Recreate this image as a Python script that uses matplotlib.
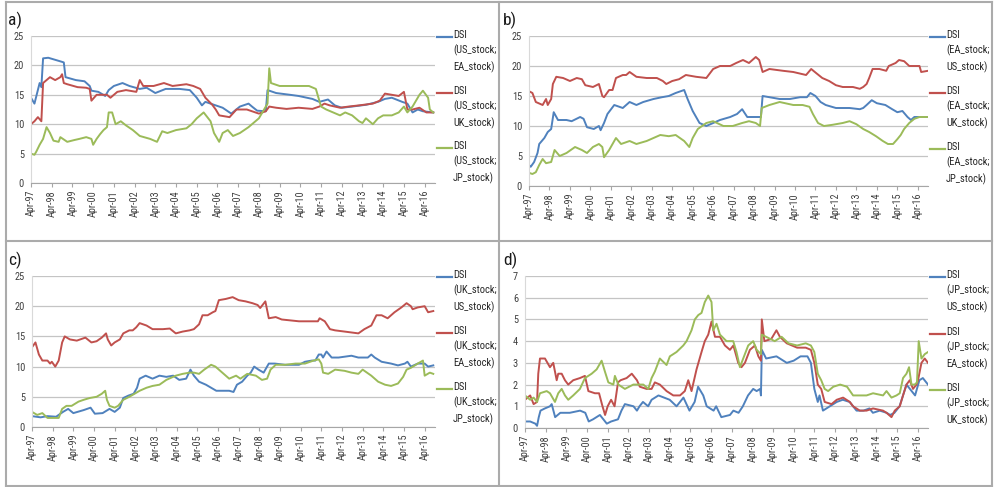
import matplotlib
matplotlib.use('Agg')
import matplotlib.pyplot as plt
from matplotlib import font_manager as fm
from matplotlib.lines import Line2D

# ---------------- data (months since Apr-97) ----------------
tick_labels = ["Apr-97", "Apr-98", "Apr-99", "Apr-00", "Apr-01", "Apr-02", "Apr-03",
               "Apr-04", "Apr-05", "Apr-06", "Apr-07", "Apr-08", "Apr-09", "Apr-10",
               "Apr-11", "Apr-12", "Apr-13", "Apr-14", "Apr-15", "Apr-16"]

# panel a
a_blue_t = [0,2,5,6,7,10,18,19,20,26,31,34,35,39,43,45,48,53,57,63,67,72,78,86,92,96,99,101,107,111,116,121,126,128,131,136,137,142,150,155,163,167,172,176,180,186,194,201,205,209,215,218,221,224,227,233]
a_blue_v = [14.5,13.5,17,16.3,21.2,21.3,20.6,20.5,18,17.5,17.3,16.5,15.7,15.5,14.8,15.8,16.5,17,16.5,16,16.2,15.3,16,16,15.8,14.5,13.2,13.8,13.2,12.8,11.8,13,13.5,13,12.3,12.2,15.8,15.3,15,14.8,14.3,13.8,14.2,13.2,12.8,13,13.3,13.8,14.3,14.5,13.8,13.5,12,12.5,12.2,12]
a_red_t = [0,2,4,6,7,9,11,14,17,18,19,21,27,32,34,35,38,44,46,50,55,61,63,65,71,77,82,90,94,98,101,105,107,109,115,119,125,128,132,136,138,142,148,155,163,167,170,173,179,184,190,198,202,205,209,213,216,218,221,225,229,233]
a_red_v = [10,10.5,11.2,10.5,17,17.5,18,17.5,18,18.5,17,16.8,16.3,16.2,16,14,15,15,14.5,15.5,15.8,15.5,17.5,16.5,16.5,17,16.5,16.8,16.5,16,14.5,13.3,12.5,11.5,11.2,12.5,12.5,12.2,11.8,12.2,13,12.8,12.6,12.8,12.6,13,13.5,13.2,12.8,13,13.2,13.5,14,15.2,15,14.8,15.5,12.5,12.5,12.8,12,12]
a_green_t = [0,2,3,5,7,9,11,13,16,17,21,25,28,32,35,36,38,40,42,44,45,47,49,52,55,59,63,69,73,76,79,84,90,93,96,100,104,106,109,111,114,117,121,126,130,132,135,137,138,139,144,152,157,161,165,168,171,175,179,182,186,190,192,194,198,201,204,209,213,216,218,221,225,227,230,231,233]
a_green_v = [5,4.8,5.3,6.5,7.5,9.5,8.5,7.2,7,7.8,7,7.3,7.5,7.8,7.5,6.5,7.5,8.3,9,9.5,12,12,10,10.5,9.8,9,8,7.5,7,8.8,8.5,9,9.3,10,11,12,10.5,8.5,7,8.5,9,8,8.5,9.5,10.5,11,12.5,13.5,19.5,17,16.5,16.5,16.5,16.5,16,13,12.5,12,11.5,12,11.5,10.5,10.2,11,10,11,11.5,11.5,12,13,12,13,15,15.7,14.5,12.5,12]

# panel b
b_blue_t = [0,1,3,5,6,9,11,13,14.5,17,22,25,30,32,34,38,41,42,44,46,50,55,59,63,67,73,78,82,86,91,93,96,100,104,108,112,118,122,125,128,133,136,137,141,147,153,159,163,165,168,171,174,180,188,194,196,198,201,204,209,213,216,219,222,224,226,234]
b_blue_v = [3.5,3.2,4,5.5,7,8,9,9.5,12.3,11,11,10.8,11.5,11.2,9.8,9.5,10,9.3,10.5,12,13.5,13,14,13.5,14,14.5,14.8,15,15.5,16,14.5,12.5,10.5,10,10.5,11,11.5,12,12.8,11.5,11.5,11.5,15,14.8,14.5,14.5,14.8,14.8,15.5,15,14,13.5,13,13,12.8,13,13.5,14.3,13.8,13.5,12.8,12.3,12.5,11.5,11,11.5,11.5]
b_red_t = [0,2,4,8,10,11,13,14,16,20,24,28,31,33,37.5,41,43,44,47,49,51,55,57,59,63,69,75,78.5,80.5,84,88,92,98,104,108,112,118,121.5,125.5,129,133,135,137,141,149,155,162.5,165.5,168.5,172,176,180,184,190,194,196,198,199.5,201.5,205.5,209.5,211,215,217,220,223,229,230,234]
b_red_v = [15.8,15.5,14,13.5,14.5,13.5,14.5,17,18.2,18,17.5,18,17.8,16.8,16.5,17,15,14.8,16,16,18,18.5,18.5,19,18.2,18,18,17.5,17,17.5,17.8,18.5,18.2,18,19.5,20,20,20.5,21,20.5,21.5,21,19,19.5,19.2,19,18.5,19.5,18.8,18,17.5,16.8,16.5,16.5,16.2,16.5,17,18,19.5,19.5,19.2,20,20.5,21,20.8,20,20,19,19.2]
b_green_t = [0,2,4,6,8,10,13,14,15,18,22,27,31,34,37.5,41,43,44,47,50,51,54,59,63,69,73,77,82,86,91,94,96,99,104,108,114,119.5,125,129,133,135.5,136.5,141,147,155,160.5,164.5,166.5,169.5,173,178,184,188,192,196,199.5,203.5,207.5,210.5,213.5,216,218,220,223,226,229,234]
b_green_v = [2.2,2,2.3,3.5,4.5,3.8,4,5,6,5,5.5,6.5,6,5.5,6.5,7,6.5,4.8,6,7.5,8,7,7.5,7,7.5,8,8.5,8.3,8.5,7.5,6.5,8,9.5,10.5,10.8,10,10,10.5,10.8,10.5,10,13,13.5,14,13.5,13.5,13.2,12,10.5,10,10.2,10.5,10.8,10.3,9.5,9,8.3,7.5,7,7,7.8,8.5,9.5,10.5,11.2,11.5,11.5]

# panel c
c_blue_t = [0,5,9,14,18,21,24,30,34,36.5,41,45,48,51,53,56,59,61,62.5,66,70,74,78,82,85.5,89.5,92,94,97,101,104,107,110.5,114.5,117,119,122,125,127,129,131.5,134.5,137.5,141,147,155,158.5,162.5,164.5,166.5,168,169,171,174,178,185.5,189.5,195,197,199,203,208.5,212.5,216.5,218,220,224,228,230,233]
c_blue_v = [1.8,1.6,1.8,1.7,2.5,3,2.3,2.8,3.2,2.2,2.3,3,2.5,3.2,4.8,5.2,5.5,6.5,8,8.5,8,8.5,8.3,8.5,7.8,8,9.5,8.5,7.5,7,6.5,6,6,6,5.8,7,7.5,8.5,9,10,9.5,9,10.5,10.5,10.3,10.3,10.8,11,11,12,12,11.5,12.5,11.5,11.5,11.8,11.5,11.5,12,11.5,10.8,10.5,10.2,10.5,10.8,10,10.5,10.5,10,10.2]
c_red_t = [0,2,4,6,9,10.5,11.5,13.5,15.5,17.5,19,22,26,31,34.5,37.5,40.5,43,44,46,48,51,53,56.5,58.5,60.5,62.5,66.5,70,76,80,83.5,87.5,91.5,94,97,99,102,105,106.5,108.5,112.5,116.5,120,124,128,131,132.5,135.5,137.5,141.5,145,155,162.5,166,167,170,173,176,181.5,189.5,193,197,200,203,206.5,210.5,214.5,217.5,220,221,224,228,230,233]
c_red_v = [13.2,14,12,11,11,10.5,10.8,10,11,14,15,14.5,14.3,14.8,14,14.2,14.8,15.5,14.5,13.5,14,14.5,15.5,16,16,16.5,17.2,16.8,16.2,16.2,16.3,15.5,15.8,16,16.2,17,18.5,18.5,19,19.2,21,21.2,21.5,21,20.8,20.5,20.2,19.7,20.8,18,18.2,17.8,17.5,17.5,17.5,18,17.5,16.2,16,15.8,15.5,16.2,16.8,18.5,18.5,18,19,19.8,20.5,20,19.5,19.8,20,19,19.2]
c_green_t = [0,3,6,9,15.5,17.5,20,23,27,30,33.5,37.5,40.5,42.5,43.5,45,48,50,53,56.5,59.5,62.5,66.5,70,74,78,83.5,87.5,91.5,94,97,100,104,106.5,110.5,114.5,118.5,121,125,130,133.5,136.5,138.5,141.5,147,153,158.5,163.5,166.5,168,169,172,176,181.5,185.5,189.5,192,197,201,205,208.5,212.5,215.5,217.5,220,224,227,228,231,233]
c_green_v = [2.5,2,2.3,1.5,1.5,3,3.5,3.5,4.2,4.5,4.8,5,5.5,6,4.5,3.5,3.2,3.5,4.5,5,5.5,6,6.5,6.8,7,7.8,8.5,8.8,9,9,8.8,9.5,10.3,10,9,8,8.5,8,8.8,8.5,7.8,8,9.5,10.3,10.3,10.5,10.5,11,11.2,10.5,9,8.8,9.5,9.3,9,8.8,9.5,8.5,7.5,7,6.8,7.2,8.3,9.5,9.8,10.5,11,8.5,9,8.8]

# panel d
d_blue_t = [0,3,6,7,8,9,11.5,14.5,15.5,17.5,20.5,26,32,35,37,39.5,43.5,45.5,47.5,50,54,56,58,63,65,66.5,68.5,71.5,73.5,77.5,84,88,92,95.5,98.5,100.5,103.5,105.5,109.5,111,114,119,121,124,126.5,129.5,132.5,134.5,136.5,137,137.5,140,146,152,156,160,164,166,168,170,171,173,177,181,184.5,188.5,192.5,196.5,200,202,206,210,212,214.5,217.5,219.5,221.5,223.5,226.5,229,231,234]
d_blue_v = [0.3,0.3,0.2,0.1,0.5,0.8,0.9,1,1.1,0.5,0.7,0.7,0.8,0.7,0.3,0.4,0.6,0.4,0.2,0.3,0.4,0.8,1.1,1,0.8,1,1.2,1,1.3,1.5,1.3,1,1.4,0.8,1.2,1.9,1.5,1,0.8,1,0.5,0.6,0.8,0.7,1,1.5,1.8,1.7,1.8,1.5,3.6,3.2,3.3,3,3.1,3.3,3.3,3,1.8,1.2,1.5,0.8,1,1.2,1.3,1.2,0.8,0.8,0.9,0.7,0.8,0.7,0.6,0.7,1,1.5,2,1.8,1.5,2.2,2.3,2]
d_red_t = [0,3,5,7,7.7,8.7,11.6,14.5,16.4,18.4,19.3,21.3,23.2,25.1,28,31.9,34.8,36.8,40.6,43,45,46.5,48,50,52,54,55.5,59,62,65,66.7,70.6,73.5,75.4,78.3,82.2,86.1,90,92.8,94.8,96.7,99.6,102.5,104.4,106.4,108.3,110.3,113.2,116.1,119,121,123.8,125.7,127.7,130.6,133.5,135.5,137,137.5,139,143,146,148,152,158,163,166,168,170,172,174,178,181,184.7,188.6,190.5,194.4,198.3,202.1,207.9,209.9,212.8,214.7,217.6,219.5,221.5,223.4,225.3,227.3,228.2,230.2,232.1,234]
d_red_v = [1.3,1.5,1.1,1.2,2.5,3.2,3.2,2.8,3,2.2,2.5,2.5,2.2,2,2.2,2.3,2.4,1.7,1.6,1.6,1,0.6,1,1.3,1,2.1,2.2,2.3,2.5,2.2,1.9,1.8,1.8,2.1,2,1.7,1.5,1.5,1.7,2.2,1.7,2.7,3.5,4,4.3,4.9,4.2,4.2,3.8,3.6,3.8,3,2.8,3,3.6,3.8,3.3,3.1,5,4,4.1,4.5,4.2,3.9,3.7,3.7,3.6,3,2,1.8,1.2,1.1,1.3,1.4,1.2,1,0.8,0.8,0.9,0.8,0.7,0.5,0.8,1,1.5,2,2.2,1.8,2,2.2,3,3.2,3]
d_green_t = [0,3,5,7,8.7,12.6,14.5,17.4,19.3,21.3,23.2,25.1,28,31.9,34.8,38.7,41.6,44.5,46.4,48.4,51.3,52.2,54.2,58,62.9,68.7,71.6,73.5,75.4,78.3,82.2,84.1,88,91.9,93.8,96.7,98.6,100.6,102.5,104.4,106.4,108.3,109.3,111.2,113.2,117,120.9,122.8,124.8,126.7,129.6,132.5,134.5,137,137.5,140,145,149,153,158,163,166,168,170,172,174,176,179,183,187,190.5,194.4,198.3,202.1,207.9,209.9,212.8,215.7,217.6,219.5,221.5,223,224.4,226.3,227.6,228.6,230.2,232.1,234]
d_green_v = [1.5,1.3,1.4,1.2,1.6,1.7,1.6,1.2,1.6,1.8,1.5,1.3,1.5,1.8,2.3,2.5,2.7,3.1,2.6,2.1,2,2.4,2,1.8,2,2,1.8,2.3,2.6,3.2,2.9,3.3,3.5,3.8,4,4.5,5,5.2,5.3,5.8,6.1,5.8,4.5,4.8,4.3,4,4,3.5,2.8,3.2,3.8,4,3.6,3.4,4.3,4.2,4,4.2,3.9,3.8,3.9,3.8,3.5,2.5,2.2,1.8,1.7,1.9,2,1.9,1.5,1.5,1.5,1.6,1.5,1.7,1.4,1.5,1.6,2.3,2.5,2.8,2,2,2.1,4,3.2,3.4,3.5]

legend_a = ["DSI\n(US_stock;\nEA_stock)", "DSI\n(US_stock;\nUK_stock)", "DSI\n(US_stock;\nJP_stock)"]
legend_b = ["DSI\n(EA_stock;\nUS_stock)", "DSI\n(EA_stock;\nUK_stock)", "DSI\n(EA_stock;\nJP_stock)"]
legend_c = ["DSI\n(UK_stock;\nUS_stock)", "DSI\n(UK_stock;\nEA_stock)", "DSI\n(UK_stock;\nJP_stock)"]
legend_d = ["DSI\n(JP_stock;\nUS_stock)", "DSI\n(JP_stock;\nEA_stock)", "DSI\n(JP_stock;\nUK_stock)"]

# ---------------- styling ----------------
names = {f.name for f in fm.fontManager.ttflist}
FONT = 'DejaVu Sans'
for cand in ['Liberation Sans Narrow', 'Roboto Condensed', 'Open Sans Condensed', 'Lato']:
    if cand in names:
        FONT = cand
        break
plt.rcParams['font.family'] = [FONT, 'DejaVu Sans']

COLORS = ['#4F81BD', '#C0504D', '#9BBB59']
W, H = 995, 487
fig = plt.figure(figsize=(W / 100, H / 100), dpi=100)


def fx(x):
    return x / W


def fy(y):
    return 1 - y / H


panels = [
    dict(tag='a)', box=(31, 36, 435, 183), ymax=25, step=5,
         series=[(a_blue_t, a_blue_v), (a_red_t, a_red_v), (a_green_t, a_green_v)],
         legend=legend_a, lx=437, ly=[37, 93, 148], tx=8, ty=20),
    dict(tag='b)', box=(529, 36, 928, 186), ymax=25, step=5,
         series=[(b_blue_t, b_blue_v), (b_red_t, b_red_v), (b_green_t, b_green_v)],
         legend=legend_b, lx=930, ly=[37, 93, 149], tx=503, ty=20),
    dict(tag='c)', box=(32, 276, 435, 427), ymax=25, step=5,
         series=[(c_blue_t, c_blue_v), (c_red_t, c_red_v), (c_green_t, c_green_v)],
         legend=legend_c, lx=437, ly=[277, 333, 389], tx=8, ty=260),
    dict(tag='d)', box=(525, 276, 928, 428), ymax=7, step=1,
         series=[(d_blue_t, d_blue_v), (d_red_t, d_red_v), (d_green_t, d_green_v)],
         legend=legend_d, lx=930, ly=[277, 334, 390], tx=503, ty=260),
]

for p in panels:
    l, t, r, b = p['box']
    ax = fig.add_axes([fx(l), fy(b), (r - l) / W, (b - t) / H])
    for (xs, ys), c in zip(p['series'], COLORS):
        ax.plot(xs, ys, color=c, lw=1.4, solid_joinstyle='round')
    ax.set_xlim(0, 234)
    ax.set_ylim(0, p['ymax'])
    ax.set_yticks(range(0, p['ymax'] + 1, p['step']))
    ax.set_xticks(range(0, 12 * len(tick_labels), 12))
    ax.set_xticklabels(tick_labels, rotation=90, fontsize=7.3, color='#404040')
    ax.tick_params(axis='y', length=0, labelsize=7.5, labelcolor='#404040', pad=5)
    ax.tick_params(axis='x', length=3, color='#A6A6A6', width=0.8, pad=2)
    ax.grid(axis='y', color='#C4C4C4', lw=0.9)
    ax.set_axisbelow(True)
    for s in ['top', 'right']:
        ax.spines[s].set_visible(False)
    ax.spines['left'].set_color('#D9D9D9')
    ax.spines['bottom'].set_color('#A6A6A6')
    ax.spines['left'].set_linewidth(0.8)
    ax.spines['bottom'].set_linewidth(0.8)

    # legend (manual, handle aligned with first text line)
    for lab, yy, c in zip(p['legend'], p['ly'], COLORS):
        fig.add_artist(Line2D([fx(p['lx']), fx(p['lx'] + 15)], [fy(yy), fy(yy)],
                              color=c, lw=1.6))
        fig.text(fx(p['lx'] + 16), fy(yy - 7), lab, fontsize=7.6, color='#262626',
                 va='top', ha='left', linespacing=1.55)

    fig.text(fx(p['tx']), fy(p['ty']), p['tag'], fontsize=12.5, va='center',
             ha='left', color='#1a1a1a')

# panel frame lines
FRAME = '#ABABAB'
for xs, ys in [([6, 992], [2, 2]), ([6, 992], [241, 241]), ([6, 992], [486, 486]),
               ([6, 6], [2, 486]), ([499, 499], [2, 486]), ([992, 992], [2, 486])]:
    fig.add_artist(Line2D([fx(x) for x in xs], [fy(y) for y in ys], color=FRAME, lw=1.5))

fig.savefig('out.png', dpi=100)
